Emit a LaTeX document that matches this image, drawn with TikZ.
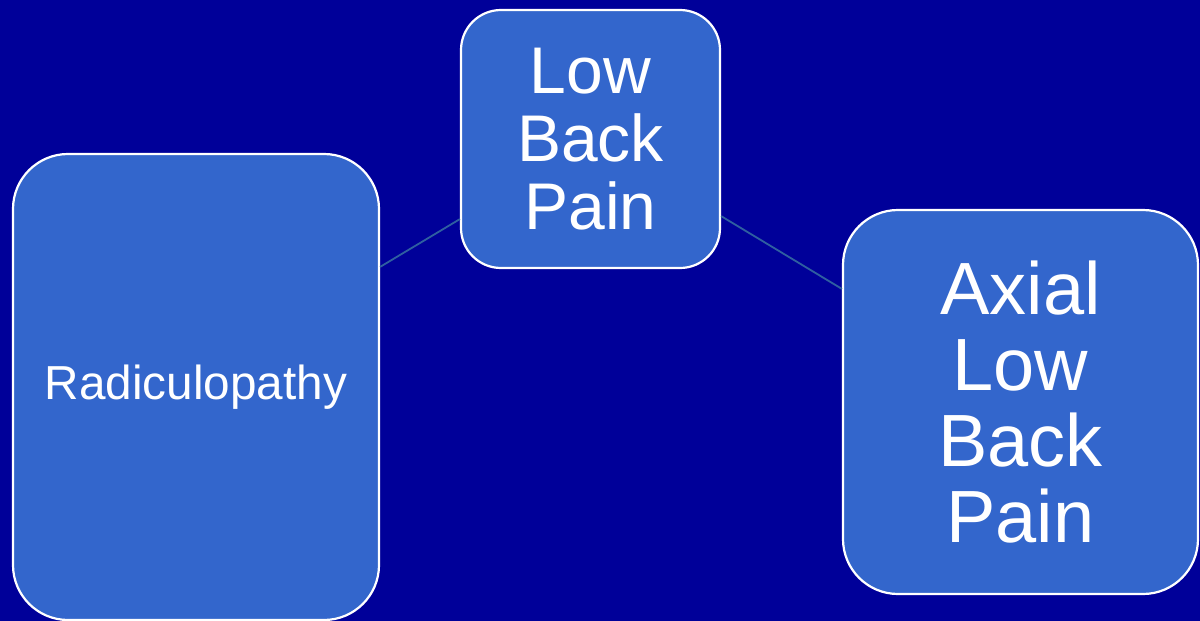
\documentclass[tikz,border=0pt]{standalone}
\usepackage{fontspec}
\setmainfont{Liberation Sans}
\usetikzlibrary{calc}
\definecolor{bgblue}{RGB}{0,0,153}
\definecolor{boxblue}{RGB}{51,102,204}
\definecolor{linkblue}{RGB}{47,95,160}
\tikzset{
  catbox/.style={draw=white, line width=2.2pt, fill=boxblue, text=white,
    align=center, inner sep=0pt, anchor=center},
  link/.style={draw=linkblue, line width=1.8pt}
}
\begin{document}
\begin{tikzpicture}[x=1pt,y=-1pt]
\fill[bgblue] (0,0) rectangle (1200,621);
\useasboundingbox (0,0) rectangle (1200,621);
\node[catbox, rounded corners=55pt, minimum width=366pt, minimum height=466pt,
  font=\fontsize{47.7}{55}\selectfont] (L) at (196,387) {Radiculopathy};
\node[catbox, rounded corners=40pt, minimum width=259pt, minimum height=258pt,
  font=\fontsize{66}{68}\selectfont] (T) at (590.5,139) {Low\\Back\\Pain};
\node[catbox, rounded corners=55pt, minimum width=355pt, minimum height=384pt,
  font=\fontsize{74}{76}\selectfont] (R) at (1020.5,402) {Axial\\Low\\Back\\Pain};
\draw[link] ($(L.north east)+(0,114)$) -- ($(T.south west)+(0,-50)$);
\draw[link] ($(T.south east)+(0,-53)$) -- ($(R.north west)+(0,80)$);
\end{tikzpicture}
\end{document}
